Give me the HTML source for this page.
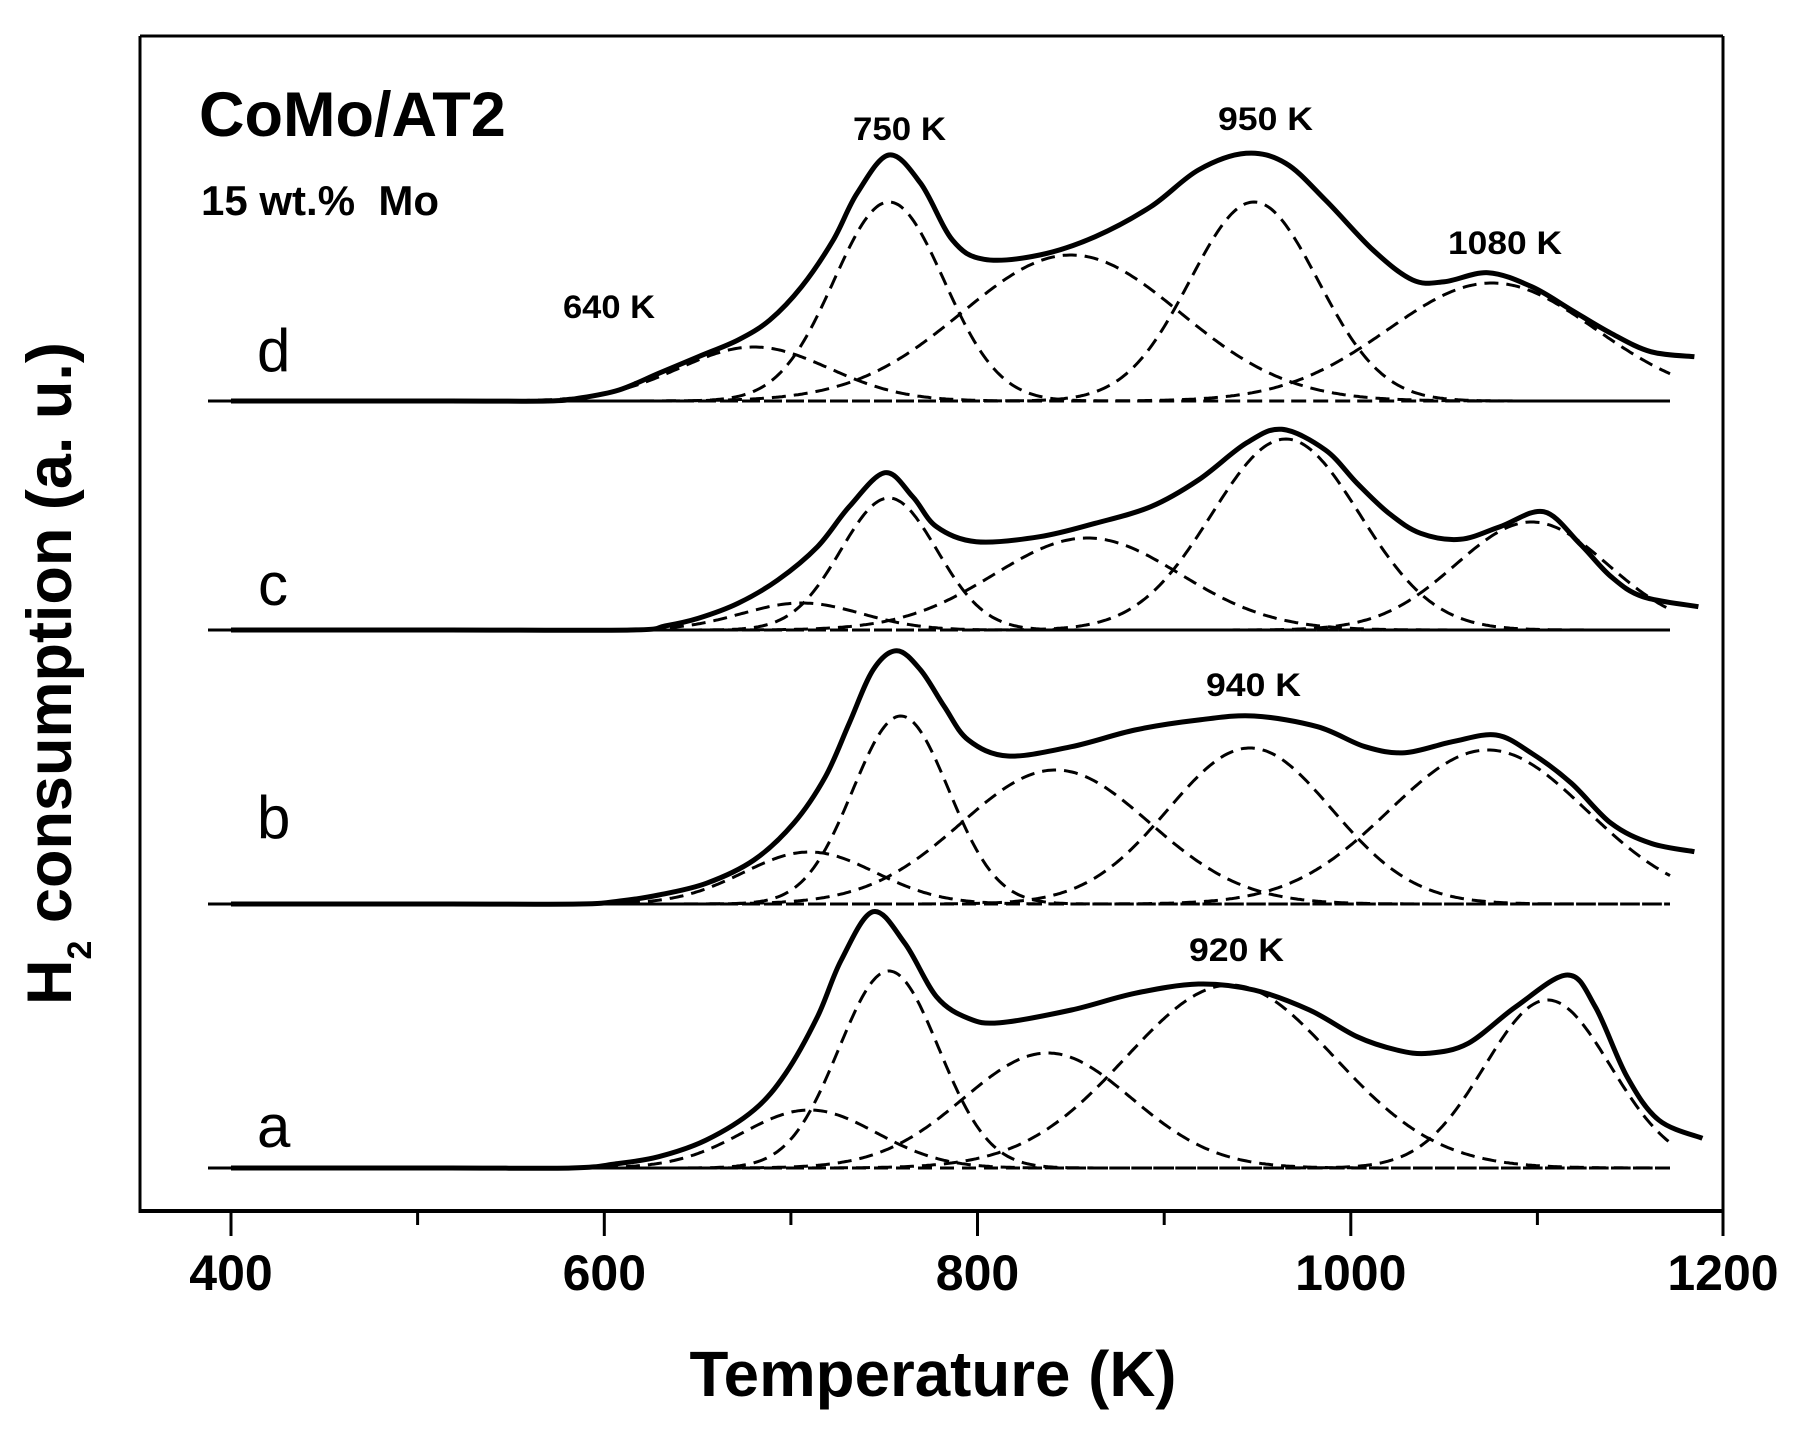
<!DOCTYPE html>
<html>
<head>
<meta charset="utf-8">
<style>
  html,body{margin:0;padding:0;background:#fff;}
  svg{display:block;}
  text{font-family:"Liberation Sans",Arial,sans-serif;fill:#000;}
</style>
</head>
<body>
<svg id="chart" xmlns="http://www.w3.org/2000/svg" width="1796" height="1432" viewBox="0 0 1796 1432">
  <rect x="0" y="0" width="1796" height="1432" fill="#fff"/>
  <g id="curves"></g>
  <!-- frame -->
  <line x1="140" y1="36" x2="1723" y2="36" stroke="#000" stroke-width="3"/>
  <line x1="140" y1="36" x2="140" y2="1211" stroke="#000" stroke-width="3"/>
  <line x1="1723" y1="36" x2="1723" y2="1211" stroke="#000" stroke-width="3"/>
  <line x1="138.5" y1="1211" x2="1724.5" y2="1211" stroke="#000" stroke-width="4"/>
  <!-- ticks -->
  <g stroke="#000" stroke-width="3">
    <line x1="231" y1="1211" x2="231" y2="1236"/>
    <line x1="604.3" y1="1211" x2="604.3" y2="1236"/>
    <line x1="977.5" y1="1211" x2="977.5" y2="1236"/>
    <line x1="1350.8" y1="1211" x2="1350.8" y2="1236"/>
    <line x1="1723" y1="1211" x2="1723" y2="1236"/>
    <line x1="417.6" y1="1211" x2="417.6" y2="1225"/>
    <line x1="790.9" y1="1211" x2="790.9" y2="1225"/>
    <line x1="1164.2" y1="1211" x2="1164.2" y2="1225"/>
    <line x1="1537.4" y1="1211" x2="1537.4" y2="1225"/>
  </g>
  <!-- tick labels -->
  <g font-size="50" font-weight="bold" text-anchor="middle">
    <text x="231" y="1290">400</text>
    <text x="604.3" y="1290">600</text>
    <text x="977.5" y="1290">800</text>
    <text x="1350.8" y="1290">1000</text>
    <text x="1723" y="1290">1200</text>
  </g>
  <!-- axis titles -->
  <text x="933" y="1396" font-size="64" font-weight="bold" text-anchor="middle" textLength="487" lengthAdjust="spacingAndGlyphs">Temperature (K)</text>
  <text transform="translate(71,1005) rotate(-90)" font-size="63" font-weight="bold">H<tspan font-size="34" dy="20">2</tspan><tspan dy="-20"> consumption (a. u.)</tspan></text>
  <!-- header texts -->
  <text x="199" y="136" font-size="63" font-weight="bold">CoMo/AT2</text>
  <text x="201" y="215" font-size="42" font-weight="bold" xml:space="preserve">15 wt.%  Mo</text>
  <!-- series labels -->
  <g font-size="60">
    <text x="257" y="371">d</text>
    <text x="258" y="605">c</text>
    <text x="257" y="838">b</text>
    <text x="257" y="1147">a</text>
  </g>
  <!-- peak labels -->
  <g font-size="32" font-weight="bold">
    <text x="563" y="318" textLength="92" lengthAdjust="spacingAndGlyphs">640 K</text>
    <text x="853" y="140" textLength="93" lengthAdjust="spacingAndGlyphs">750 K</text>
    <text x="1218" y="130" textLength="95" lengthAdjust="spacingAndGlyphs">950 K</text>
    <text x="1448" y="254" textLength="114" lengthAdjust="spacingAndGlyphs">1080 K</text>
    <text x="1206" y="696" textLength="95" lengthAdjust="spacingAndGlyphs">940 K</text>
    <text x="1189" y="961" textLength="95" lengthAdjust="spacingAndGlyphs">920 K</text>
  </g>
</svg>
<script>
(function(){
  var NS="http://www.w3.org/2000/svg";
  var g=document.getElementById("curves");
  var panels=[
    {base:401,
     solid:[[231,401],[450,401],[548,401],[580,398],[619,390],[658.7,373.3],[698.4,356.7],[738.1,340],[769.8,320],[801.6,286.7],[833.3,240],[857.1,193.3],[888.9,155],[920.6,183.3],[952.4,240],[984.1,259.3],[1039.7,255],[1095.2,236.7],[1150.8,206.7],[1198.4,170],[1246,153.3],[1285.7,163.3],[1325.4,200],[1373,250],[1412.7,280],[1444.4,281.7],[1488.1,272.7],[1531.7,286.7],[1571.4,310],[1611.1,333.3],[1650.8,351.7],[1694.4,356.7]],
     comps:[[754,54,75],[889,199,55],[1071,146,109],[1254,199,64],[1492,118,104]]},
    {base:630,
     solid:[[231,630],[450,630],[631,630],[665,626],[698.4,618.3],[738.1,603.3],[777.8,580],[817.5,546.7],[849.2,506.7],[884.9,472.7],[912.7,496.7],[936.5,526.7],[976.2,541.7],[1039.7,536.7],[1095.2,523.3],[1150.8,506.7],[1198.4,480],[1246,443.3],[1281.7,429.3],[1325.4,450],[1357.1,483.3],[1388.9,513.3],[1420.6,533.3],[1460.3,539.3],[1500,526.7],[1543.7,511.7],[1579.4,543.3],[1611.1,576.7],[1642.9,596.7],[1698.4,606.7]],
     comps:[[801.6,27,60],[888.9,132,48],[1087.3,92,93],[1285.7,191,74],[1531.7,108,76]]},
    {base:904,
     solid:[[231,904],[450,904],[579.4,904],[620,901],[658.7,895],[706.3,883.3],[754,860],[793.7,823.3],[825.4,776.7],[849.2,723.3],[873,670],[896.8,650.7],[920.6,670],[944.4,706.7],[968.3,740],[1007.9,756],[1071.4,746.7],[1134.9,730],[1198.4,720],[1254,716],[1317.5,726.7],[1365.1,746.7],[1404.8,752.7],[1452.4,741.7],[1496,735],[1531.7,753.3],[1571.4,783.3],[1611.1,823.3],[1650.8,843.3],[1694.4,851.7]],
     comps:[[809.5,52,66],[900.8,188,48],[1055.6,134,94],[1250,156,82],[1488,154,99]]},
    {base:1168,
     solid:[[231,1168],[450,1168],[571.4,1168],[615,1164],[658.7,1156.7],[706.3,1140],[754,1110],[785.7,1073.3],[817.5,1016.7],[841.3,960],[873,911.7],[904.8,943.3],[936.5,996.7],[968.3,1018.3],[1000,1022.7],[1071.4,1010],[1134.9,993.3],[1198.4,984],[1254,990],[1309.5,1010],[1357.1,1036.7],[1396.8,1050],[1428.6,1053.3],[1468.3,1043.3],[1515.9,1006.7],[1567.5,975],[1595.2,1006.7],[1627,1076.7],[1658.7,1120],[1702.4,1138.3]],
     comps:[[809.5,58,67],[888.9,197,50],[1047.6,115,84],[1230.2,183,104],[1547.6,168,63]]}
  ];
  function cr(p){
    var d="M"+p[0][0]+","+p[0][1];
    for(var i=0;i<p.length-1;i++){
      var p0=p[i-1]||p[i],p1=p[i],p2=p[i+1],p3=p[i+2]||p2;
      var c1x=p1[0]+(p2[0]-p0[0])/6,c1y=p1[1]+(p2[1]-p0[1])/6;
      var c2x=p2[0]-(p3[0]-p1[0])/6,c2y=p2[1]-(p3[1]-p1[1])/6;
      d+=" C"+c1x.toFixed(1)+","+c1y.toFixed(1)+" "+c2x.toFixed(1)+","+c2y.toFixed(1)+" "+p2[0]+","+p2[1];
    }
    return d;
  }
  panels.forEach(function(pn){
    pn.comps.forEach(function(c,i){
      var d="";
      for(var x=208;x<=1671;x+=2){
        var y=pn.base-c[1]*Math.exp(-(x-c[0])*(x-c[0])/(2*c[2]*c[2]));
        d+=(x===208?"M":"L")+x+","+y.toFixed(1)+" ";
      }
      var path=document.createElementNS(NS,"path");
      path.setAttribute("d",d);
      path.setAttribute("fill","none");
      path.setAttribute("stroke","#000");
      path.setAttribute("stroke-width","3");
      path.setAttribute("stroke-dasharray","14 8");
      path.setAttribute("stroke-dashoffset",String(i*4));
      g.appendChild(path);
    });
    var s=document.createElementNS(NS,"path");
    s.setAttribute("d",cr(pn.solid));
    s.setAttribute("fill","none");
    s.setAttribute("stroke","#000");
    s.setAttribute("stroke-width","5");
    s.setAttribute("stroke-linejoin","round");
    g.appendChild(s);
  });
})();
</script>
</body>
</html>
